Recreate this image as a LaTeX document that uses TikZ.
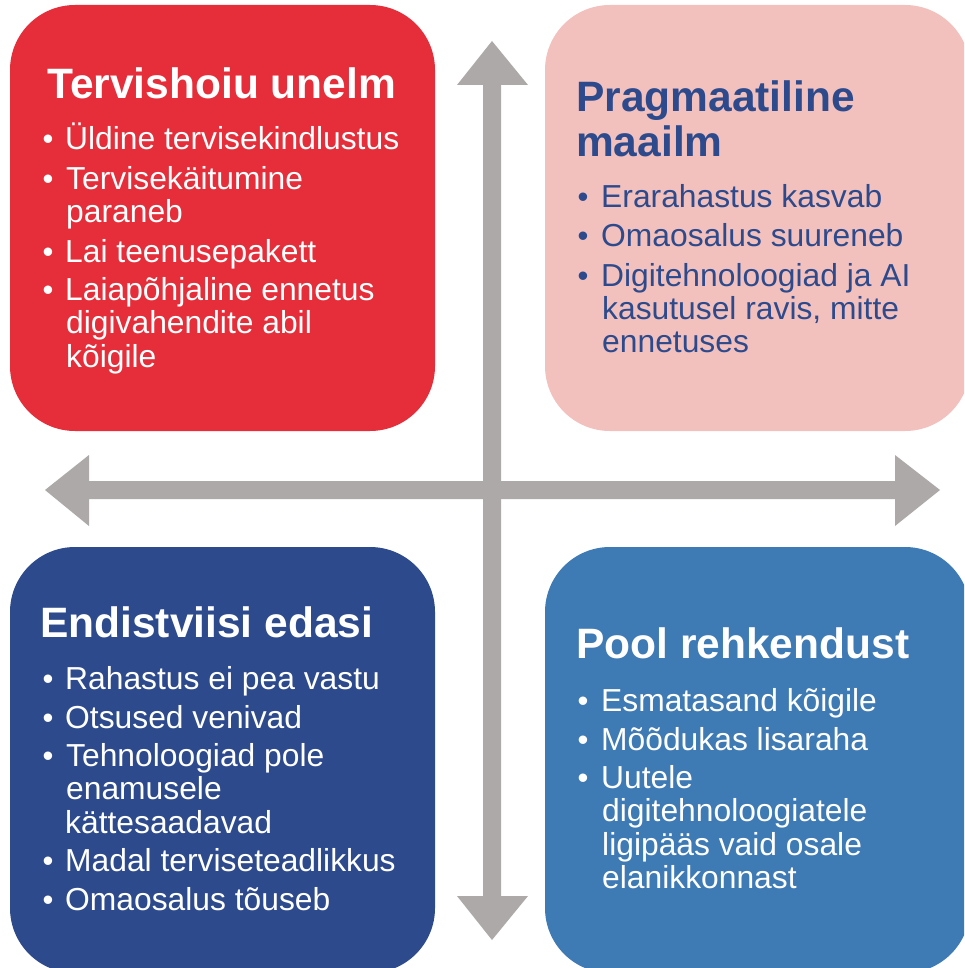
\documentclass[tikz,border=0pt]{standalone}
\usepackage{fontspec}
\setmainfont{Liberation Sans}
\definecolor{cred}{HTML}{E52E39}
\definecolor{cpink}{HTML}{F2C1BD}
\definecolor{cdark}{HTML}{2D4A8C}
\definecolor{cmid}{HTML}{3E7AB4}
\definecolor{cgray}{HTML}{ADA9A8}
\tikzset{
  box/.style={minimum width=425pt, minimum height=426pt, inner sep=0pt, rounded corners=65pt, draw=none},
  ttl/.style={anchor=base west, inner sep=0pt, font=\bfseries\fontsize{42.5}{45}\selectfont},
  txt/.style={anchor=base west, inner sep=0pt, font=\fontsize{31.8}{33}\selectfont},
  bul/.style={anchor=base, inner sep=0pt, font=\fontsize{31}{33}\selectfont},
  axis/.style={fill=cgray, draw=none}
}
\begin{document}
\begin{tikzpicture}[x=1pt, y=-1pt]
\useasboundingbox (0,0) rectangle (964,968);
\clip (0,0) rectangle (964,968);
\fill[white] (0,0) rectangle (964,968);
% axes
\fill[axis] (483,85) -- (457,85) -- (492,41) -- (528,85) -- (501,85) -- (501,896) -- (528,896) -- (492,940) -- (457,896) -- (483,896) -- cycle;
\fill[axis] (89,481) -- (89,455) -- (45,490) -- (89,526) -- (89,499) -- (895,499) -- (895,526) -- (940,490) -- (895,455) -- (895,481) -- cycle;
% boxes
\node[box, fill=cred] (tl) at (222.5,218) {};
\node[box, fill=cpink] (tr) at (757.5,218) {};
\node[box, fill=cdark] (bl) at (222.5,760) {};
\node[box, fill=cmid] (br) at (757.5,760) {};
% top left
\begin{scope}[every node/.append style={text=white}]
\node[ttl] (tlh) at (47,99) {Tervishoiu unelm};
\node[bul] (tlb1) at (48,150) {•};
\node[txt] (tl1) at (65,150) {Üldine tervisekindlustus};
\node[bul] (tlb2) at (48,190) {•};
\node[txt] (tl2) at (66,190) {Tervisekäitumine};
\node[txt] (tl3) at (66,223) {paraneb};
\node[bul] (tlb3) at (48,262) {•};
\node[txt] (tl4) at (65,262) {Lai teenusepakett};
\node[bul] (tlb4) at (48,300) {•};
\node[txt] (tl5) at (65,300) {Laiapõhjaline ennetus};
\node[txt] (tl6) at (66,333) {digivahendite abil};
\node[txt] (tl7) at (66,367) {kõigile};
\end{scope}
% top right
\begin{scope}[every node/.append style={text=cdark}]
\node[ttl] (trh1) at (576,112) {Pragmaatiline};
\node[ttl] (trh2) at (576,157) {maailm};
\node[bul] (trb1) at (583,208) {•};
\node[txt] (tr1) at (601,208) {Erarahastus kasvab};
\node[bul] (trb2) at (583,247) {•};
\node[txt] (tr2) at (601,247) {Omaosalus suureneb};
\node[bul] (trb3) at (583,286) {•};
\node[txt] (tr3) at (601,286) {Digitehnoloogiad ja AI};
\node[txt] (tr4) at (602,319) {kasutusel ravis, mitte};
\node[txt] (tr5) at (602,352) {ennetuses};
\end{scope}
% bottom left
\begin{scope}[every node/.append style={text=white}]
\node[ttl] (blh) at (40,637) {Endistviisi edasi};
\node[bul] (blb1) at (48,689) {•};
\node[txt] (bl1) at (65,689) {Rahastus ei pea vastu};
\node[bul] (blb2) at (48,728) {•};
\node[txt] (bl2) at (65,728) {Otsused venivad};
\node[bul] (blb3) at (48,766) {•};
\node[txt] (bl3) at (66,766) {Tehnoloogiad pole};
\node[txt] (bl4) at (66,799) {enamusele};
\node[txt] (bl5) at (65,833) {kättesaadavad};
\node[bul] (blb4) at (48,871) {•};
\node[txt] (bl6) at (65,871) {Madal terviseteadlikkus};
\node[bul] (blb5) at (48,910) {•};
\node[txt] (bl7) at (65,910) {Omaosalus tõuseb};
\end{scope}
% bottom right
\begin{scope}[every node/.append style={text=white}]
\node[ttl] (brh) at (576,658) {Pool rehkendust};
\node[bul] (brb1) at (583,711) {•};
\node[txt] (br1) at (601,711) {Esmatasand kõigile};
\node[bul] (brb2) at (583,750) {•};
\node[txt] (br2) at (601,750) {Mõõdukas lisaraha};
\node[bul] (brb3) at (583,788) {•};
\node[txt] (br3) at (601,788) {Uutele};
\node[txt] (br4) at (602,821) {digitehnoloogiatele};
\node[txt] (br5) at (602,855) {ligipääs vaid osale};
\node[txt] (br6) at (602,888) {elanikkonnast};
\end{scope}
\end{tikzpicture}
\end{document}
